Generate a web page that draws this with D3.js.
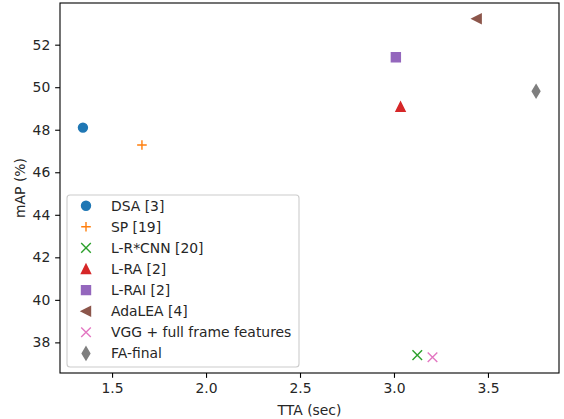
<!DOCTYPE html>
<html>
<head>
<meta charset="utf-8">
<script src="https://cdn.jsdelivr.net/npm/d3@7"></script>
<style>
  body { margin: 0; background: #fff; }
  svg { font-family: "DejaVu Sans", sans-serif; }
</style>
</head>
<body>
<svg id="chart"></svg>
<script>
// data
const methods = ['DSA [3]', 'SP [19]', 'L-R*CNN [20]', 'L-RA [2]', 'L-RAI [2]',
    'AdaLEA [4]', 'VGG + full frame features', 'FA-final']
const tta = [1.345, 1.659, 3.124, 3.035, 3.01, 3.44, 3.205, 3.756]
const mapValues = [48.1, 47.28, 37.4, 49.08, 51.41, 53.22, 37.3, 49.81]
const markers = ['o', '+', 'x', '^', 's', '<', 'x', 'd']
const colors = ['#1f77b4', '#ff7f0e', '#2ca02c', '#d62728', '#9467bd', '#8c564b', '#e377c2', '#7f7f7f']
const xTicks = [1.5, 2.0, 2.5, 3.0, 3.5]
const yTicks = [38, 40, 42, 44, 46, 48, 50, 52]

const width = 564, height = 419
const margin = {top: 3, right: 5, bottom: 46, left: 60}
const fontSize = 13.9
const ms = 8.8   // filled marker size in px
const msOpen = 9.6  // + and x markers

let svg = d3.select('#chart')
    .attr('width', width)
    .attr('height', height)

let x = d3.scaleLinear().domain([1.223, 3.878]).range([margin.left, width - margin.right])
let y = d3.scaleLinear().domain([36.56, 53.96]).range([height - margin.bottom, margin.top])

// marker shapes, like matplotlib ones
function markerPath(type, s) {
    let h = s / 2
    if (type === 'o') return `M${h},0A${h},${h} 0 1,1 ${-h},0A${h},${h} 0 1,1 ${h},0Z`
    if (type === 's') return `M${-h},${-h}H${h}V${h}H${-h}Z`
    if (type === '^') return `M0,${-h}L${h},${h}L${-h},${h}Z`
    if (type === '<') return `M${-h},0L${h},${-h}L${h},${h}Z`
    if (type === 'd') {
        let r = s * Math.SQRT1_2
        return `M0,${-r}L${0.6 * r},0L0,${r}L${-0.6 * r},0Z`
    }
    if (type === '+') return `M${-h},0H${h}M0,${-h}V${h}`
    if (type === 'x') return `M${-h},${-h}L${h},${h}M${-h},${h}L${h},${-h}`
}

function drawMarker(g, type, color) {
    let open = (type === '+' || type === 'x')
    g.append('path')
        .attr('d', markerPath(type, open ? msOpen : ms))
        .attr('fill', open ? 'none' : color)
        .attr('stroke', color)
        .attr('stroke-width', open ? 1.4 : 1.6)
        .attr('stroke-linejoin', 'miter')
}

// axes
let xAxis = svg.append('g')
    .attr('transform', `translate(0,${height - margin.bottom})`)
    .call(d3.axisBottom(x).tickValues(xTicks).tickFormat(d3.format('.1f')).tickSize(4.86).tickPadding(4.86))
let yAxis = svg.append('g')
    .attr('transform', `translate(${margin.left},0)`)
    .call(d3.axisLeft(y).tickValues(yTicks).tickFormat(d3.format('d')).tickSize(4.86).tickPadding(4.86))

for (let a of [xAxis, yAxis]) {
    a.select('.domain').remove()
    a.selectAll('.tick line').attr('stroke', '#000').attr('stroke-width', 1.1)
    a.selectAll('.tick text')
        .attr('font-size', fontSize)
        .attr('font-family', '"DejaVu Sans", sans-serif')
        .attr('fill', '#262626')
}

// frame
svg.append('rect')
    .attr('x', margin.left)
    .attr('y', margin.top)
    .attr('width', width - margin.right - margin.left)
    .attr('height', height - margin.bottom - margin.top)
    .attr('fill', 'none')
    .attr('stroke', '#000')
    .attr('stroke-width', 1.1)

// points
methods.forEach((m, i) => {
    let g = svg.append('g')
        .attr('transform', `translate(${x(tta[i])},${y(mapValues[i])})`)
    drawMarker(g, markers[i], colors[i])
})

// axis labels
svg.append('text')
    .attr('x', (margin.left + width - margin.right) / 2)
    .attr('y', 414.5)
    .attr('text-anchor', 'middle')
    .attr('font-size', fontSize)
    .attr('fill', '#262626')
    .text('TTA (sec)')
svg.append('text')
    .attr('transform', `translate(24.5,${(margin.top + height - margin.bottom) / 2}) rotate(-90)`)
    .attr('text-anchor', 'middle')
    .attr('font-size', fontSize)
    .attr('fill', '#262626')
    .text('mAP (%)')

// legend
let legend = svg.append('g').attr('id', 'legend')
legend.append('rect')
    .attr('x', 67)
    .attr('y', 195)
    .attr('width', 232)
    .attr('height', 172)
    .attr('rx', 3)
    .attr('fill', '#fff')
    .attr('fill-opacity', 0.8)
    .attr('stroke', '#cccccc')
    .attr('stroke-width', 1.1)

methods.forEach((m, i) => {
    let ly = 205.7 + i * 21.1
    let g = legend.append('g').attr('transform', `translate(86,${ly})`)
    drawMarker(g, markers[i], colors[i])
    legend.append('text')
        .attr('x', 111)
        .attr('y', ly)
        .attr('dy', '0.36em')
        .attr('font-size', fontSize)
        .attr('fill', '#262626')
        .text(m)
})
</script>
</body>
</html>
